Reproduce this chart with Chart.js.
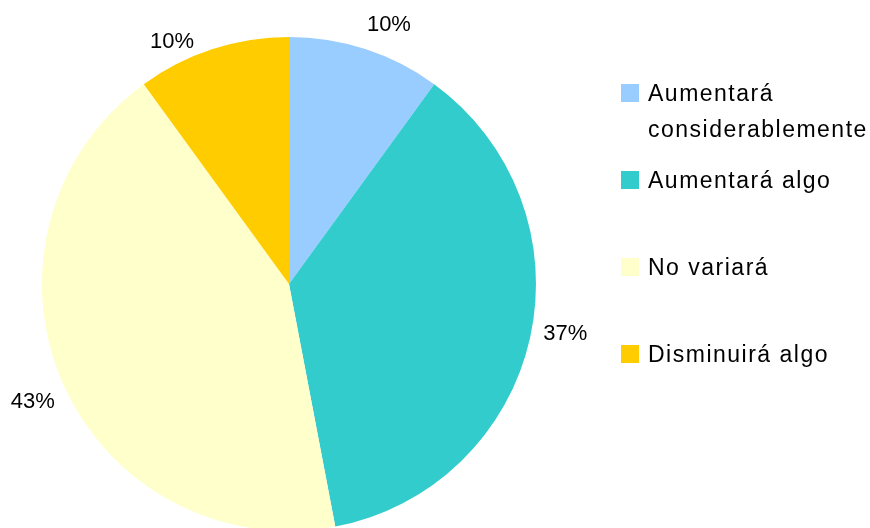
<!DOCTYPE html>
<html>
<head>
<meta charset="utf-8">
<script src="https://cdn.jsdelivr.net/npm/chart.js@4/dist/chart.umd.min.js"></script>
<style>
    html, body { margin: 0; padding: 0; background: #fff; overflow: hidden; }
    #wrap { position: relative; width: 870px; height: 540px; }
</style>
</head>
<body>
<div id="wrap"><canvas id="pie-chart" width="870" height="540"></canvas></div>
<script>
const categories = ["Aumentará considerablemente", "Aumentará algo", "No variará", "Disminuirá algo"];
const shares = [10, 37, 43, 10];
const sliceColors = ["#99CCFF", "#33CCCC", "#FFFFCC", "#FFCC00"];

// small per-label shifts so the percentages sit where Excel put them
const labelNudge = [[14, 3], [5, -13], [-1, 6], [-31, 20]];

const LABEL_FONT = "22px 'Liberation Sans', Arial, sans-serif";
const LEGEND_FONT = "23px 'Liberation Sans', Arial, sans-serif";

const pieLabels = {
    id: "pieLabels",
    afterDatasetsDraw(chart) {
        const ctx = chart.ctx;
        const meta = chart.getDatasetMeta(0);
        ctx.save();
        ctx.font = LABEL_FONT;
        ctx.fillStyle = "#000";
        ctx.textAlign = "center";
        ctx.textBaseline = "alphabetic";
        meta.data.forEach((arc, i) => {
            const mid = (arc.startAngle + arc.endAngle) / 2;
            const dist = arc.outerRadius + 31;
            const x = arc.x + Math.cos(mid) * dist + labelNudge[i][0];
            const y = arc.y + Math.sin(mid) * dist + labelNudge[i][1];
            ctx.fillText(shares[i] + "%", x, y + 8);
        });
        ctx.restore();
    },
};

const sideLegend = {
    id: "sideLegend",
    afterDraw(chart) {
        const ctx = chart.ctx;
        const boxX = 621, textX = 648, firstBase = 101, rowStep = 87, lineHeight = 36;
        const maxWidth = chart.width - textX;
        ctx.save();
        ctx.font = LEGEND_FONT;
        ctx.letterSpacing = "1.5px";
        ctx.textAlign = "left";
        ctx.textBaseline = "alphabetic";
        categories.forEach((name, i) => {
            const base = firstBase + i * rowStep;
            ctx.fillStyle = sliceColors[i];
            ctx.fillRect(boxX, base - 17, 18, 18);

            // wrap long names onto a second line
            const words = name.split(" ");
            const lines = [];
            let line = "";
            words.forEach((w) => {
                const test = line ? line + " " + w : w;
                if (line && ctx.measureText(test).width > maxWidth) {
                    lines.push(line);
                    line = w;
                } else {
                    line = test;
                }
            });
            lines.push(line);

            ctx.fillStyle = "#000";
            lines.forEach((l, j) => ctx.fillText(l, textX, base + j * lineHeight));
        });
        ctx.restore();
    },
};

new Chart(document.getElementById("pie-chart"), {
    type: "pie",
    data: {
        labels: categories,
        datasets: [{
            data: shares,
            backgroundColor: sliceColors,
            borderWidth: 0,
        }],
    },
    options: {
        responsive: false,
        animation: false,
        layout: { padding: { left: 42, top: 37, right: 334, bottom: 9 } },
        plugins: {
            legend: { display: false },
            tooltip: { enabled: false },
        },
    },
    plugins: [pieLabels, sideLegend],
});
</script>
</body>
</html>
